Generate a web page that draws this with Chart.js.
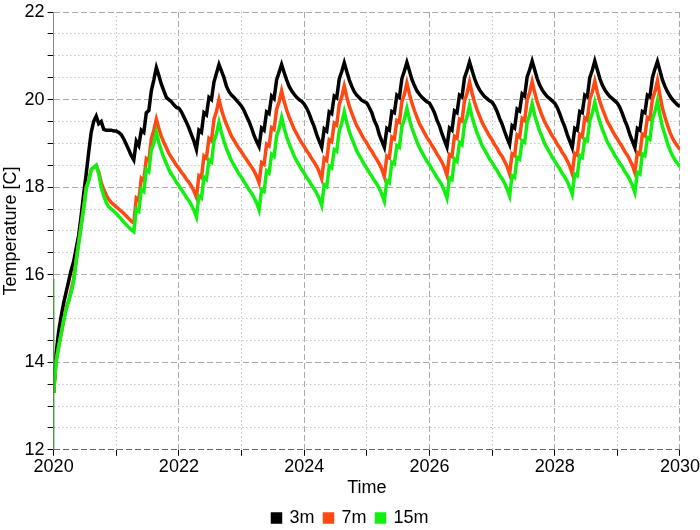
<!DOCTYPE html>
<html>
<head>
<meta charset="utf-8">
<script src="https://cdn.jsdelivr.net/npm/chart.js@4/dist/chart.umd.min.js"></script>
<style>
  html, body { margin: 0; padding: 0; background: #fff; }
  #wrap { width: 700px; height: 530px; }
</style>
</head>
<body>
<div id="wrap"><canvas id="chart" width="700" height="530"></canvas></div>
<script>
// sampled every 0.04 year from 2020.00 to 2030.00, one row per year
const startYear = 2020;
const stepYear = 0.04;

const seriesNames = ['3m', '7m', '15m'];

const temp3m = [
  13.3, 14.2, 14.7, 15.05, 15.35, 15.6, 15.85, 16.1, 16.3, 16.6, 16.9, 17.35, 17.85, 18.3, 18.8, 19.25, 19.5, 19.62, 19.45, 19.5, 19.32, 19.3, 19.3, 19.3, 19.28,
  19.28, 19.25, 19.2, 19.1, 18.98, 18.85, 18.72, 18.62, 19.05, 18.95, 19.3, 19.25, 19.7, 19.75, 20.2, 20.45, 20.73, 20.55, 20.35, 20.2, 20.05, 20.0, 19.95, 19.88, 19.82,
  19.8, 19.72, 19.6, 19.48, 19.35, 19.2, 19.05, 18.86, 19.3, 19.25, 19.7, 19.65, 20.05, 20.0, 20.4, 20.6, 20.8, 20.65, 20.5, 20.3, 20.18, 20.1, 20.05, 19.98, 19.92,
  19.85, 19.75, 19.62, 19.5, 19.35, 19.18, 19.05, 18.93, 19.35, 19.3, 19.72, 19.68, 20.08, 20.02, 20.45, 20.62, 20.8, 20.62, 20.45, 20.3, 20.2, 20.12, 20.05, 20.0, 19.96,
  19.9, 19.8, 19.68, 19.52, 19.38, 19.2, 19.05, 18.91, 19.33, 19.28, 19.72, 19.68, 20.08, 20.04, 20.47, 20.64, 20.84, 20.64, 20.45, 20.3, 20.18, 20.1, 20.04, 19.98, 19.95,
  19.92, 19.82, 19.7, 19.52, 19.4, 19.2, 19.05, 18.91, 19.34, 19.3, 19.73, 19.7, 20.1, 20.05, 20.48, 20.65, 20.85, 20.66, 20.46, 20.32, 20.2, 20.12, 20.05, 20.0, 19.95,
  19.92, 19.82, 19.7, 19.53, 19.4, 19.22, 19.07, 18.92, 19.35, 19.3, 19.74, 19.7, 20.1, 20.06, 20.5, 20.66, 20.86, 20.67, 20.48, 20.33, 20.22, 20.14, 20.07, 20.02, 19.97,
  19.94, 19.85, 19.73, 19.57, 19.44, 19.27, 19.12, 18.98, 19.4, 19.35, 19.78, 19.74, 20.13, 20.08, 20.52, 20.68, 20.88, 20.68, 20.48, 20.33, 20.22, 20.14, 20.07, 20.02, 19.97,
  19.92, 19.82, 19.68, 19.52, 19.38, 19.2, 19.05, 18.9, 19.34, 19.3, 19.73, 19.7, 20.1, 20.06, 20.5, 20.67, 20.88, 20.68, 20.48, 20.33, 20.22, 20.14, 20.07, 20.02, 19.97,
  19.92, 19.82, 19.68, 19.52, 19.38, 19.2, 19.05, 18.9, 19.34, 19.3, 19.73, 19.7, 20.1, 20.06, 20.5, 20.7, 20.87, 20.66, 20.45, 20.3, 20.18, 20.08, 20.0, 19.94, 19.88,
  19.84
];

const temp7m = [
  13.3, 14.05, 14.35, 14.65, 14.95, 15.25, 15.4, 15.65, 15.9, 16.35, 16.75, 17.15, 17.55, 18.0, 18.15, 18.4, 18.45, 18.48, 18.35, 18.1, 17.95, 17.82, 17.72, 17.65, 17.6,
  17.55, 17.5, 17.45, 17.4, 17.34, 17.28, 17.22, 17.18, 17.75, 17.7, 18.2, 18.15, 18.65, 18.6, 19.1, 19.3, 19.55, 19.34, 19.16, 19.02, 18.9, 18.77, 18.68, 18.59, 18.5,
  18.43, 18.34, 18.27, 18.18, 18.11, 18.02, 17.91, 17.77, 18.26, 18.22, 18.71, 18.66, 19.11, 19.06, 19.55, 19.73, 20.0, 19.77, 19.58, 19.43, 19.3, 19.16, 19.07, 18.97, 18.88,
  18.8, 18.71, 18.63, 18.54, 18.46, 18.37, 18.25, 18.1, 18.56, 18.52, 18.98, 18.94, 19.36, 19.32, 19.78, 19.95, 20.2, 19.96, 19.76, 19.6, 19.46, 19.32, 19.22, 19.11, 19.01,
  18.93, 18.83, 18.75, 18.65, 18.57, 18.47, 18.35, 18.19, 18.66, 18.61, 19.08, 19.04, 19.46, 19.42, 19.89, 20.06, 20.31, 20.06, 19.85, 19.69, 19.54, 19.4, 19.3, 19.19, 19.09,
  19.01, 18.9, 18.82, 18.72, 18.63, 18.53, 18.41, 18.24, 18.71, 18.67, 19.14, 19.1, 19.52, 19.48, 19.95, 20.12, 20.38, 20.13, 19.92, 19.75, 19.6, 19.45, 19.35, 19.24, 19.13,
  19.05, 18.95, 18.86, 18.76, 18.67, 18.57, 18.44, 18.27, 18.74, 18.7, 19.16, 19.12, 19.55, 19.51, 19.97, 20.14, 20.4, 20.15, 19.94, 19.77, 19.62, 19.48, 19.37, 19.27, 19.16,
  19.08, 18.97, 18.89, 18.78, 18.7, 18.59, 18.47, 18.3, 18.76, 18.72, 19.19, 19.14, 19.57, 19.52, 19.99, 20.16, 20.41, 20.16, 19.95, 19.78, 19.63, 19.49, 19.38, 19.28, 19.17,
  19.09, 18.98, 18.9, 18.79, 18.71, 18.6, 18.48, 18.31, 18.77, 18.73, 19.2, 19.15, 19.58, 19.53, 20.0, 20.17, 20.42, 20.17, 19.96, 19.79, 19.65, 19.5, 19.4, 19.29, 19.19,
  19.1, 19.0, 18.92, 18.81, 18.73, 18.62, 18.5, 18.33, 18.79, 18.75, 19.21, 19.17, 19.59, 19.55, 20.01, 20.18, 20.43, 20.1, 19.8, 19.6, 19.42, 19.25, 19.12, 19.02, 18.94,
  18.86
];

const temp15m = [
  13.3, 14.0, 14.35, 14.65, 14.95, 15.2, 15.4, 15.6, 15.85, 16.3, 16.7, 17.1, 17.5, 17.95, 18.15, 18.4, 18.45, 18.5, 18.3, 18.0, 17.8, 17.65, 17.55, 17.5, 17.45,
  17.4, 17.33, 17.27, 17.2, 17.14, 17.08, 17.02, 16.98, 17.5, 17.45, 17.95, 17.9, 18.4, 18.35, 18.85, 19.0, 19.25, 19.02, 18.83, 18.67, 18.54, 18.4, 18.3, 18.21, 18.11,
  18.03, 17.94, 17.86, 17.76, 17.69, 17.59, 17.47, 17.32, 17.8, 17.75, 18.23, 18.18, 18.62, 18.57, 19.05, 19.22, 19.48, 19.24, 19.04, 18.88, 18.74, 18.6, 18.5, 18.4, 18.3,
  18.22, 18.12, 18.04, 17.94, 17.86, 17.76, 17.64, 17.48, 17.94, 17.9, 18.37, 18.32, 18.75, 18.7, 19.17, 19.34, 19.59, 19.35, 19.15, 18.99, 18.85, 18.71, 18.6, 18.5, 18.4,
  18.32, 18.22, 18.14, 18.04, 17.96, 17.86, 17.74, 17.58, 18.05, 18.01, 18.48, 18.44, 18.86, 18.82, 19.29, 19.46, 19.72, 19.48, 19.27, 19.11, 18.97, 18.82, 18.72, 18.62, 18.52,
  18.43, 18.33, 18.25, 18.15, 18.07, 17.97, 17.84, 17.68, 18.15, 18.1, 18.57, 18.53, 18.95, 18.91, 19.38, 19.55, 19.8, 19.55, 19.35, 19.19, 19.04, 18.9, 18.8, 18.69, 18.59,
  18.51, 18.41, 18.32, 18.22, 18.14, 18.04, 17.91, 17.75, 18.21, 18.17, 18.64, 18.59, 19.02, 18.97, 19.44, 19.61, 19.86, 19.61, 19.41, 19.24, 19.1, 18.95, 18.85, 18.75, 18.64,
  18.56, 18.46, 18.38, 18.27, 18.19, 18.09, 17.96, 17.8, 18.26, 18.22, 18.68, 18.64, 19.06, 19.02, 19.48, 19.65, 19.9, 19.65, 19.45, 19.28, 19.14, 18.99, 18.89, 18.79, 18.68,
  18.6, 18.5, 18.42, 18.31, 18.23, 18.13, 18.0, 17.84, 18.3, 18.26, 18.72, 18.68, 19.1, 19.06, 19.52, 19.69, 19.94, 19.69, 19.49, 19.32, 19.18, 19.03, 18.93, 18.83, 18.72,
  18.64, 18.54, 18.46, 18.35, 18.27, 18.17, 18.04, 17.88, 18.34, 18.3, 18.76, 18.72, 19.13, 19.09, 19.55, 19.72, 19.97, 19.65, 19.38, 19.2, 19.0, 18.85, 18.72, 18.62, 18.54,
  18.47
];

// initial value of the 15m probe, drawn as a thin stroke on the left edge
const start15mYears = [2020, 2020];
const start15mValues = [12, 15.9];

const colors = ['#000000', '#ff4812', '#12f012'];

const toPoints = vals => vals.map((v, i) => ({ x: +(startYear + i * stepYear).toFixed(2), y: v }));

const dashOf = (tick, major) => {
    if (!tick) return [];
    return tick.value % major === 0 ? [6, 3] : [1.5, 2.5];
};

const font = { family: "'Liberation Sans', Arial, sans-serif", size: 18 };
Chart.defaults.font = font;
Chart.defaults.color = '#000';

const datasets = [temp3m, temp7m, temp15m].map((vals, i) => ({
    label: seriesNames[i],
    data: toPoints(vals),
    borderColor: colors[i],
    backgroundColor: colors[i],
    borderWidth: 3.5,
    pointRadius: 0,
    tension: 0,
    fill: false,
    order: 3 - i
}));
datasets.push({
    label: 'start',
    data: start15mYears.map((x, i) => ({ x, y: start15mValues[i] })),
    borderColor: '#119911',
    borderWidth: 1.5,
    pointRadius: 0,
    fill: false,
    order: 0
});

new Chart(document.getElementById('chart'), {
    type: 'line',
    data: { datasets },
    options: {
        responsive: false,
        animation: false,
        layout: { padding: { left: 0, right: -1, top: 0, bottom: -7 } },
        plugins: {
            tooltip: { enabled: false },
            legend: {
                position: 'bottom',
                reverse: true,
                labels: {
                    boxWidth: 8, boxHeight: 8, padding: 10, font,
                    filter: item => item.text !== 'start'
                }
            }
        },
        scales: {
            x: {
                type: 'linear',
                min: 2020, max: 2030,
                ticks: {
                    stepSize: 1, autoSkip: false, maxRotation: 0, padding: 0,
                    callback: v => v % 2 === 0 ? String(v) : ''
                },
                grid: {
                    color: ctx => ctx.tick && ctx.tick.value % 2 === 0 ? '#aaaaaa' : '#c4c4c4',
                    tickColor: '#000', tickLength: 6, lineWidth: 1
                },
                border: { display: false, dash: ctx => dashOf(ctx.tick, 2) },
                title: { display: true, text: 'Time', font, padding: { top: 0, bottom: 0 } }
            },
            y: {
                min: 12, max: 22,
                ticks: {
                    stepSize: 0.5, autoSkip: false, padding: 3,
                    font: { family: font.family, size: 18, lineHeight: 1 },
                    callback: v => v % 2 === 0 ? String(v) : ''
                },
                grid: {
                    color: ctx => {
                        if (!ctx.tick) return '#aaaaaa';
                        if (ctx.tick.value === 12) return '#666666';
                        return ctx.tick.value % 2 === 0 ? '#aaaaaa' : '#c4c4c4';
                    },
                    tickColor: '#000', tickLength: 6, lineWidth: 1
                },
                border: { display: true, color: '#888888', width: 1, dash: ctx => dashOf(ctx.tick, 2) },
                title: { display: true, text: 'Temperature [C]', font, padding: { top: 0, bottom: 0 } }
            }
        }
    }
});
</script>
</body>
</html>
